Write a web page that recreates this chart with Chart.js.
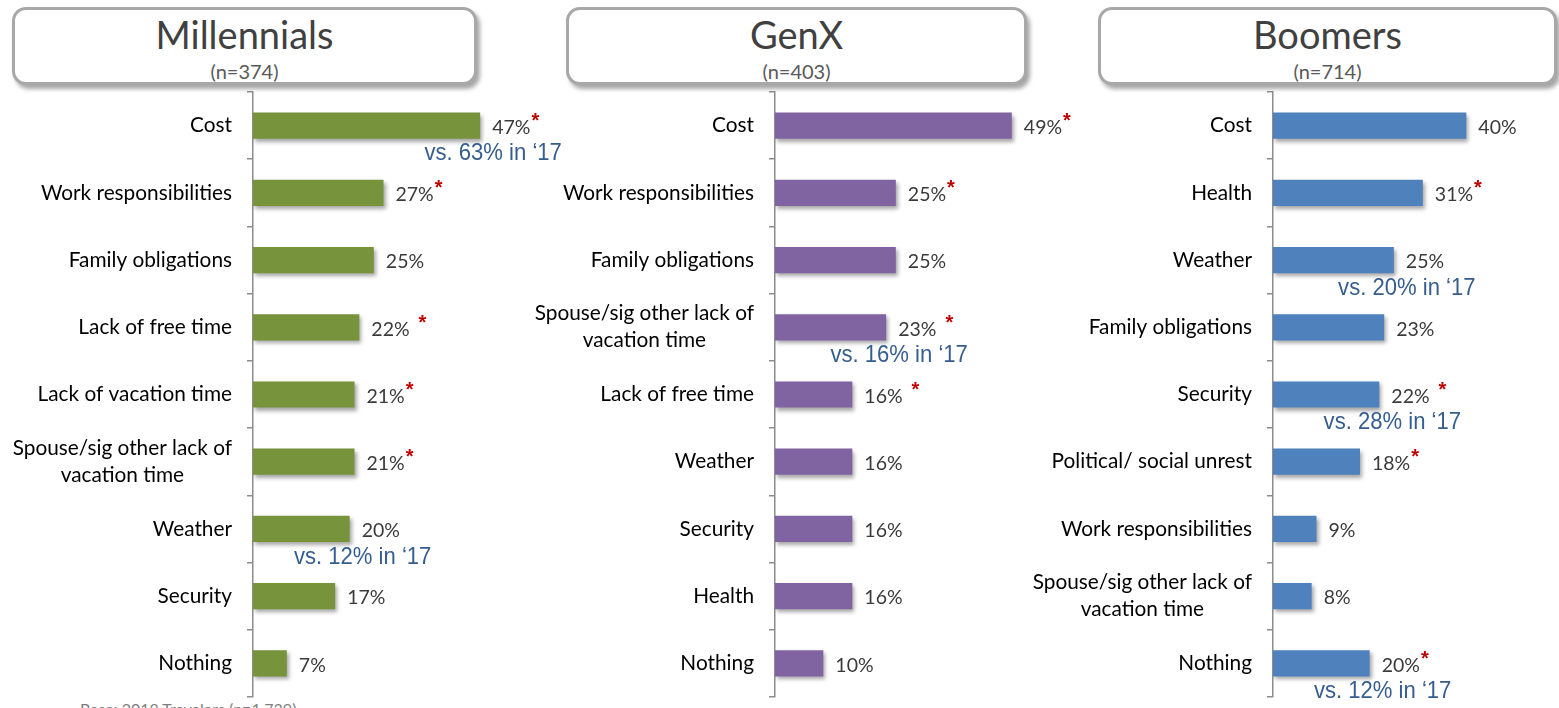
<!DOCTYPE html>
<html lang="en">
<head>
    <meta charset="UTF-8">
    <title>Travel barriers by generation</title>
    <script src="https://cdn.jsdelivr.net/npm/chart.js"></script>
    <style>
        html, body {
            margin: 0;
            padding: 0;
            background: #fff;
            overflow: hidden;
            width: 1559px;
            height: 708px;
            font-family: Lato, "Open Sans", sans-serif;
        }
        .titleBox {
            position: absolute;
            top: 7px;
            height: 72px;
            border: 3px solid #a8a8a8;
            border-radius: 14px;
            box-shadow: 3px 4px 4px rgba(0, 0, 0, 0.35);
            background: #fff;
            text-align: center;
            color: #404040;
        }
        .titleBox .big {
            font-size: 38px;
            line-height: 38px;
            margin-top: 5px;
        }
        .titleBox .small {
            font-size: 20px;
            line-height: 20px;
            color: #595959;
            margin-top: 8px;
        }
        canvas {
            position: absolute;
        }
        #base {
            position: absolute;
            left: 80px;
            top: 699px;
            font-size: 16px;
            color: #7f7f7f;
        }
    </style>
</head>
<body>
    <div class="titleBox" style="left:12px; width:459px;">
        <div class="big">Millennials</div>
        <div class="small">(n=374)</div>
    </div>
    <div class="titleBox" style="left:566px; width:455px;">
        <div class="big">GenX</div>
        <div class="small">(n=403)</div>
    </div>
    <div class="titleBox" style="left:1098px; width:453px;">
        <div class="big">Boomers</div>
        <div class="small">(n=714)</div>
    </div>

    <canvas id="millChart" width="583" height="609" style="left:0px; top:90px;"></canvas>
    <canvas id="genxChart" width="575" height="609" style="left:530px; top:90px;"></canvas>
    <canvas id="boomChart" width="573" height="609" style="left:1030px; top:90px;"></canvas>

    <div id="base">Base: 2018 Travelers (n=1,739)</div>

    <script>
        /***************************
                    DATA
        ***************************/

        // Millennials
        const millLabels = ['Cost', 'Work responsibilities', 'Family obligations', 'Lack of free time',
            'Lack of vacation time', ['Spouse/sig other lack of', 'vacation time'], 'Weather', 'Security', 'Nothing'];
        const millValues = [47, 27, 25, 22, 21, 21, 20, 17, 7];
        const millStars  = ['*', '*', '', ' *', '*', '*', '', '', ''];
        const millNotes  = ['vs. 63% in \u201817', '', '', '', '', '', 'vs. 12% in \u201817', '', ''];

        // GenX
        const genxLabels = ['Cost', 'Work responsibilities', 'Family obligations',
            ['Spouse/sig other lack of', 'vacation time'], 'Lack of free time', 'Weather', 'Security', 'Health', 'Nothing'];
        const genxValues = [49, 25, 25, 23, 16, 16, 16, 16, 10];
        const genxStars  = ['*', '*', '', ' *', ' *', '', '', '', ''];
        const genxNotes  = ['', '', '', 'vs. 16% in \u201817', '', '', '', '', ''];

        // Boomers
        const boomLabels = ['Cost', 'Health', 'Weather', 'Family obligations', 'Security',
            'Political/ social unrest', 'Work responsibilities', ['Spouse/sig other lack of', 'vacation time'], 'Nothing'];
        const boomValues = [40, 31, 25, 23, 22, 18, 9, 8, 20];
        const boomStars  = ['', '*', '', '', ' *', '*', '', '', '*'];
        const boomNotes  = ['', '', 'vs. 20% in \u201817', '', 'vs. 28% in \u201817', '', '', '', 'vs. 12% in \u201817'];

        // bar colours
        const millColor = '#77933c';
        const genxColor = '#8064a2';
        const boomColor = '#4f81bd';


        /***************************
                  PLUGINS
        ***************************/

        // soft drop shadow under the bars
        const barShadow = {
            id: 'barShadow',
            beforeDatasetsDraw(chart) {
                const ctx = chart.ctx;
                ctx.save();
                ctx.shadowColor = 'rgba(0, 0, 0, 0.35)';
                ctx.shadowBlur = 4;
                ctx.shadowOffsetX = 2;
                ctx.shadowOffsetY = 3;
            },
            afterDatasetsDraw(chart) {
                chart.ctx.restore();
            }
        };

        // category names, drawn left of the axis (multi-line names centred on each other)
        const categoryNames = {
            id: 'categoryNames',
            afterDraw(chart) {
                const ctx = chart.ctx;
                const yScale = chart.scales.y;
                const right = chart.chartArea.left - 21;
                ctx.save();
                ctx.font = '20.8px Lato, "Open Sans", sans-serif';
                ctx.fillStyle = '#000';
                ctx.textBaseline = 'middle';
                ctx.textAlign = 'center';
                chart.data.labels.forEach((label, i) => {
                    const lines = Array.isArray(label) ? label : [label];
                    const widest = Math.max(...lines.map(l => ctx.measureText(l).width));
                    const cx = right - widest / 2;
                    const cy = yScale.getPixelForTick(i);
                    const lineH = 27;
                    lines.forEach((line, k) => {
                        ctx.fillText(line, cx, cy + (k - (lines.length - 1) / 2) * lineH);
                    });
                });
                ctx.restore();
            }
        };

        // value labels with significance stars and year-on-year notes
        const valueLabels = {
            id: 'valueLabels',
            afterDraw(chart, args, opts) {
                const ctx = chart.ctx;
                const bars = chart.getDatasetMeta(0).data;
                const values = chart.data.datasets[0].data;
                ctx.save();
                bars.forEach((bar, i) => {
                    const text = values[i] + '%';
                    const x = bar.x + 12;
                    const y = bar.y + 2;
                    ctx.font = '19.5px Lato, "Open Sans", sans-serif';
                    ctx.fillStyle = '#3a3a3a';
                    ctx.textAlign = 'left';
                    ctx.textBaseline = 'middle';
                    ctx.fillText(text, x, y);
                    const w = ctx.measureText(text).width;

                    const star = opts.stars[i];
                    if (star) {
                        const gap = star.startsWith(' ') ? 9 : 1;
                        ctx.font = 'bold 20px "Liberation Sans", sans-serif';
                        ctx.fillStyle = '#c00000';
                        ctx.fillText('*', x + w + gap, y - 6);
                    }

                    const note = opts.notes[i];
                    if (note) {
                        ctx.save();
                        ctx.font = '24px "Liberation Sans", Arial, sans-serif';
                        ctx.fillStyle = '#355d8f';
                        ctx.textAlign = 'center';
                        ctx.textBaseline = 'middle';
                        ctx.translate(bar.x + 13, bar.y + 28);
                        ctx.scale(0.92, 1);
                        ctx.fillText(note, 0, 0);
                        ctx.restore();
                    }
                });
                ctx.restore();
            }
        };


        /***************************
              DRAWING THE CHARTS
        ***************************/

        // one horizontal bar chart per generation
        function drawPanel(canvasId, labels, values, color, stars, notes, axisWidth) {
            const ctx = document.getElementById(canvasId).getContext('2d');
            return new Chart(ctx, {
                type: 'bar',
                data: {
                    labels: labels,
                    datasets: [{
                        data: values,
                        backgroundColor: color,
                        borderWidth: 0,
                        barPercentage: 0.39,
                        categoryPercentage: 1
                    }]
                },
                plugins: [barShadow, categoryNames, valueLabels],
                options: {
                    indexAxis: 'y',
                    responsive: false,
                    animation: false,
                    devicePixelRatio: 1,
                    layout: {
                        padding: { top: 2, bottom: 2, left: 0, right: 40 }
                    },
                    scales: {
                        x: {
                            display: false,
                            min: 0,
                            max: 60
                        },
                        y: {
                            afterFit(scale) {
                                scale.width = axisWidth;
                            },
                            ticks: { display: false },
                            grid: {
                                offset: true,
                                drawOnChartArea: false,
                                drawTicks: true,
                                tickLength: 6,
                                color: '#8c8c8c',
                                lineWidth: 1.5
                            },
                            border: {
                                display: true,
                                color: '#8c8c8c',
                                width: 1.5
                            }
                        }
                    },
                    plugins: {
                        legend: { display: false },
                        tooltip: { enabled: false },
                        valueLabels: { stars: stars, notes: notes }
                    }
                }
            });
        }

        drawPanel('millChart', millLabels, millValues, millColor, millStars, millNotes, 253);
        drawPanel('genxChart', genxLabels, genxValues, genxColor, genxStars, genxNotes, 245);
        drawPanel('boomChart', boomLabels, boomValues, boomColor, boomStars, boomNotes, 243);
    </script>
</body>
</html>
